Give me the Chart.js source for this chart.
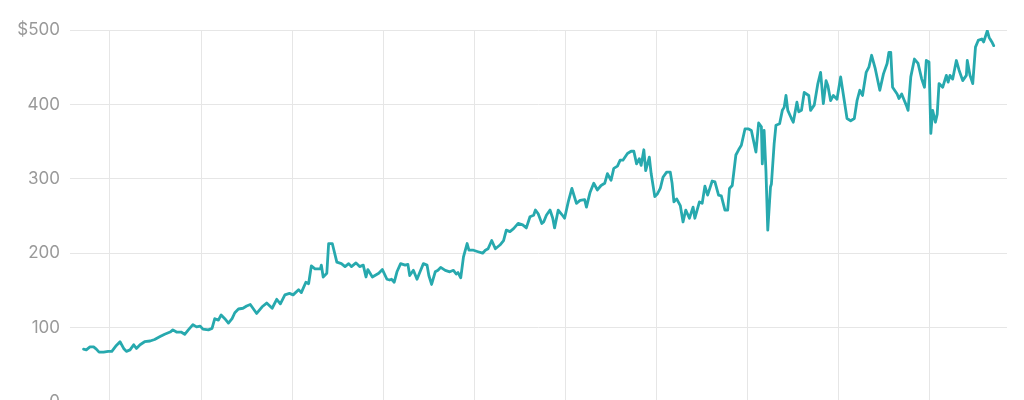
<!DOCTYPE html>
<html>
<head>
<meta charset="utf-8">
<script src="https://cdn.jsdelivr.net/npm/chart.js@4"></script>
<style>
  html, body { margin: 0; padding: 0; background: #fff; overflow: hidden; }
  #wrap { width: 1024px; height: 430px; position: relative; }
</style>
</head>
<body>
<div id="wrap"><canvas id="priceChart"></canvas></div>
<script>
// time as decimal years, price in dollars
var years = [
  2013.71, 2013.74, 2013.78, 2013.82, 2013.85, 2013.88, 2013.93, 2013.98, 2014.02, 2014.07,
  2014.11, 2014.15, 2014.18, 2014.22, 2014.26, 2014.29, 2014.33, 2014.38, 2014.44, 2014.49,
  2014.55, 2014.60, 2014.66, 2014.69, 2014.73, 2014.78, 2014.82, 2014.86, 2014.91, 2014.95,
  2014.99, 2015.02, 2015.08, 2015.12, 2015.15, 2015.19, 2015.22, 2015.26, 2015.30, 2015.34,
  2015.37, 2015.41, 2015.46, 2015.50, 2015.54, 2015.61, 2015.67, 2015.72, 2015.78, 2015.83,
  2015.87, 2015.92, 2015.97, 2016.01, 2016.07, 2016.10, 2016.15, 2016.18, 2016.21, 2016.25,
  2016.31, 2016.32, 2016.34, 2016.38, 2016.40, 2016.44, 2016.49, 2016.54, 2016.58, 2016.62,
  2016.65, 2016.70, 2016.74, 2016.78, 2016.81, 2016.83, 2016.88, 2016.95, 2016.99, 2017.04,
  2017.07, 2017.09, 2017.12, 2017.15, 2017.19, 2017.24, 2017.27, 2017.29, 2017.33, 2017.37,
  2017.41, 2017.44, 2017.48, 2017.50, 2017.53, 2017.57, 2017.60, 2017.63, 2017.68, 2017.73,
  2017.77, 2017.80, 2017.82, 2017.85, 2017.88, 2017.92, 2017.94, 2017.99, 2018.04, 2018.09,
  2018.12, 2018.15, 2018.19, 2018.23, 2018.28, 2018.32, 2018.35, 2018.39, 2018.43, 2018.48,
  2018.53, 2018.57, 2018.61, 2018.65, 2018.67, 2018.70, 2018.74, 2018.76, 2018.79, 2018.83,
  2018.86, 2018.88, 2018.92, 2018.96, 2018.99, 2019.03, 2019.07, 2019.12, 2019.16, 2019.21,
  2019.23, 2019.27, 2019.31, 2019.35, 2019.39, 2019.43, 2019.46, 2019.50, 2019.53, 2019.57,
  2019.60, 2019.63, 2019.68, 2019.72, 2019.75, 2019.78, 2019.81, 2019.83, 2019.86, 2019.88,
  2019.92, 2019.94, 2019.98, 2020.01, 2020.04, 2020.07, 2020.11, 2020.15, 2020.17, 2020.19,
  2020.22, 2020.26, 2020.29, 2020.32, 2020.36, 2020.40, 2020.42, 2020.47, 2020.50, 2020.53,
  2020.56, 2020.61, 2020.64, 2020.68, 2020.71, 2020.75, 2020.78, 2020.80, 2020.83, 2020.87,
  2020.90, 2020.93, 2020.97, 2021.01, 2021.04, 2021.09, 2021.12, 2021.15, 2021.16, 2021.18,
  2021.20, 2021.22, 2021.25, 2021.26, 2021.29, 2021.31, 2021.35, 2021.38, 2021.40, 2021.42,
  2021.44, 2021.48, 2021.50, 2021.54, 2021.56, 2021.59, 2021.62, 2021.67, 2021.69, 2021.73,
  2021.77, 2021.80, 2021.83, 2021.86, 2021.88, 2021.91, 2021.94, 2021.98, 2022.02, 2022.06,
  2022.09, 2022.13, 2022.17, 2022.20, 2022.23, 2022.26, 2022.30, 2022.33, 2022.36, 2022.40,
  2022.45, 2022.49, 2022.53, 2022.55, 2022.57, 2022.59, 2022.64, 2022.66, 2022.69, 2022.72,
  2022.74, 2022.76, 2022.79, 2022.83, 2022.87, 2022.91, 2022.94, 2022.96, 2022.99, 2023.01,
  2023.03, 2023.06, 2023.08, 2023.10, 2023.14, 2023.18, 2023.20, 2023.22, 2023.25, 2023.29,
  2023.32, 2023.36, 2023.40, 2023.41, 2023.44, 2023.47, 2023.50, 2023.53, 2023.57, 2023.59,
  2023.63, 2023.65, 2023.68, 2023.70
];

var prices = [
  71, 70, 74, 74, 71, 67, 67, 68, 68, 76,
  81, 72, 68, 70, 77, 72, 77, 81, 82, 84,
  88, 91, 94, 97, 94, 94, 91, 97, 104, 101,
  102, 98, 97, 99, 112, 110, 117, 112, 106, 112,
  120, 125, 126, 129, 131, 119, 128, 133, 126, 138,
  132, 144, 146, 144, 151, 147, 161, 159, 183, 179,
  179, 184, 168, 173, 213, 213, 188, 186, 182, 186,
  182, 187, 182, 184, 168, 178, 168, 173, 178, 165,
  164, 165, 161, 175, 186, 184, 185, 170, 177, 165,
  177, 186, 184, 170, 158, 175, 177, 181, 177, 175,
  177, 172, 174, 167, 195, 213, 204, 204, 202, 200,
  204, 206, 217, 206, 211, 217, 231, 229, 233, 240,
  238, 234, 249, 251, 258, 253, 240, 242, 251, 258,
  247, 234, 258, 252, 247, 269, 287, 267, 271, 272,
  262, 282, 294, 285, 291, 294, 307, 298, 314, 317,
  325, 325, 334, 337, 337, 320, 327, 318, 339, 311,
  329, 307, 276, 280, 287, 302, 309, 309, 294, 269,
  273, 264, 242, 258, 247, 262, 247, 269, 267, 290,
  278, 297, 296, 278, 277, 258, 258, 287, 291, 332,
  339, 345, 367, 367, 365, 336, 375, 370, 320, 365,
  311, 231, 289, 293, 347, 372, 374, 392, 396, 412,
  392, 381, 376, 403, 390, 392, 416, 412, 392, 399,
  428, 443, 401, 432, 425, 405, 412, 407, 437, 405,
  381, 378, 381, 405, 419, 412, 443, 450, 466, 448,
  419, 441, 455, 470, 470, 423, 414, 408, 414, 405,
  399, 392, 437, 461, 455, 434, 423, 459, 457, 361,
  392, 376, 387, 428, 423, 439, 430, 439, 434, 459,
  446, 432, 439, 459, 439, 428, 477, 486, 488, 484,
  499, 490, 484, 479
];

var yTicks = [0, 100, 200, 300, 400, 500];

var points = years.map(function (t, i) {
  return { x: t, y: prices[i] };
});

var ctx = document.getElementById("priceChart").getContext("2d");
var priceChart = new Chart(ctx, {
  type: "line",
  data: {
    datasets: [
      {
        data: points,
        borderColor: "#27a9ae",
        borderWidth: 2.8,
        borderJoinStyle: "round",
        borderCapStyle: "round",
        pointRadius: 0,
        tension: 0,
        fill: false,
      },
    ],
  },
  options: {
    responsive: true,
    maintainAspectRatio: false,
    animation: false,
    layout: {
      padding: { top: 30, right: 17, bottom: 28, left: 0 },
    },
    plugins: {
      legend: { display: false },
      tooltip: { enabled: false },
    },
    scales: {
      x: {
        type: "linear",
        min: 2013.561,
        max: 2023.846,
        border: { display: false },
        grid: { color: "#e6e6e6", lineWidth: 1, drawTicks: false },
        ticks: { display: false, stepSize: 1, includeBounds: false },
      },
      y: {
        min: 0,
        max: 500,
        border: { display: false },
        grid: { color: "#e6e6e6", lineWidth: 1, drawTicks: false },
        afterFit: function (scale) {
          scale.width = 70;
        },
        afterBuildTicks: function (scale) {
          scale.ticks = yTicks.map(function (v) { return { value: v }; });
        },
        ticks: {
          padding: 10,
          color: "#999999",
          font: { family: "Inter", size: 17 },
          callback: function (value) {
            return value === 500 ? "$500" : value;
          },
        },
      },
    },
  },
});
</script>
</body>
</html>
